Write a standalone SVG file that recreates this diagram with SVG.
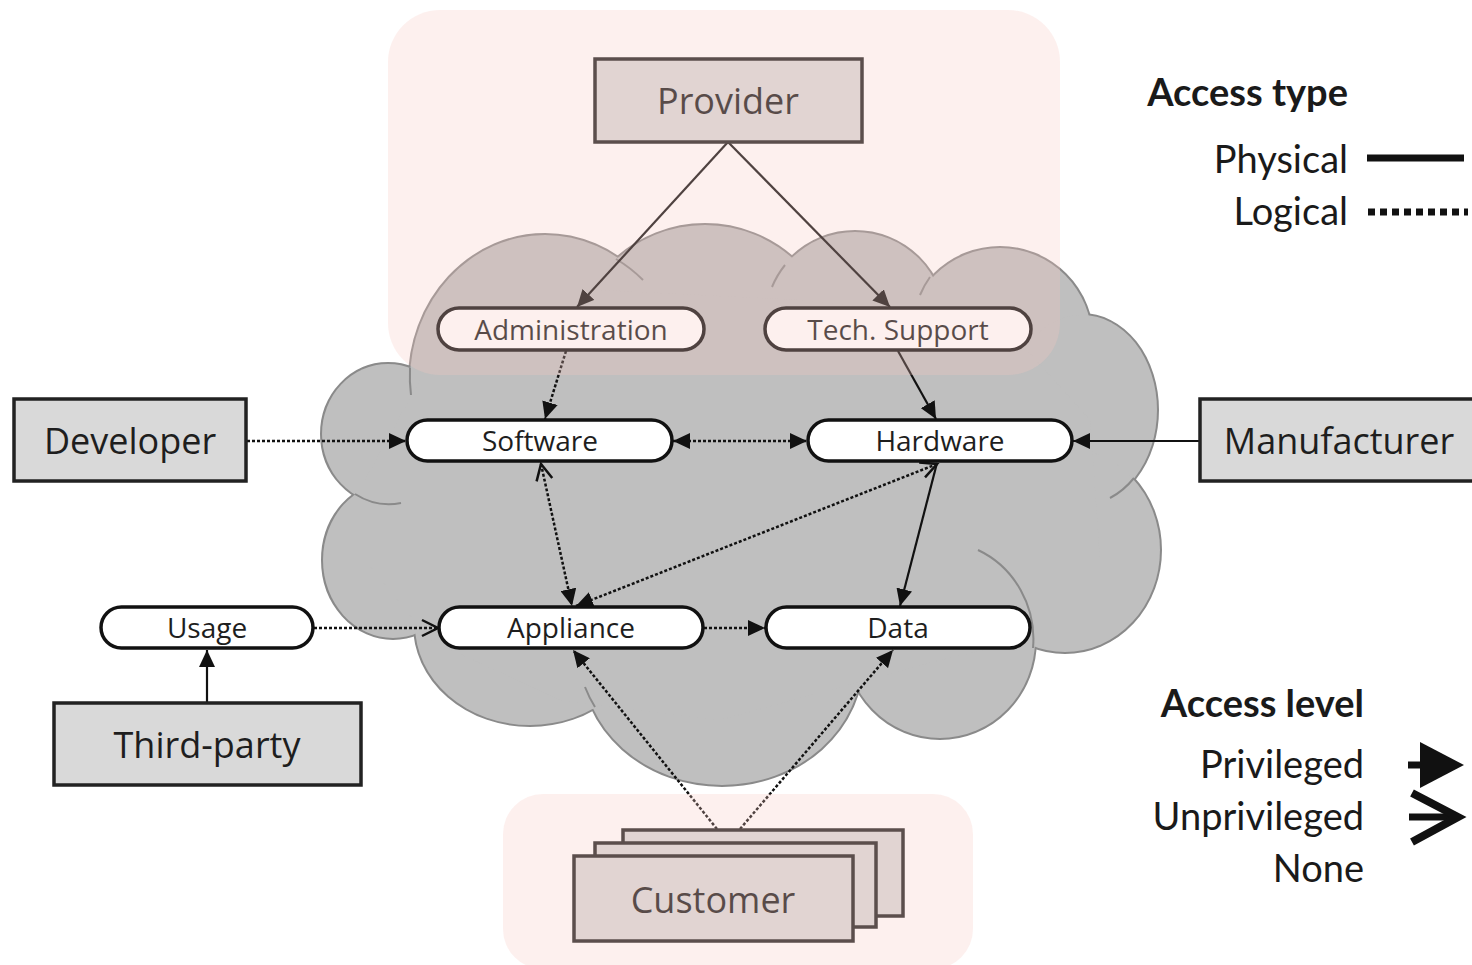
<svg xmlns="http://www.w3.org/2000/svg" width="1472" height="965" viewBox="0 0 1472 965">
  <defs>
    <style>
      .lobe-edge { fill: #bfbfbf; stroke: #8a8a8a; stroke-width: 4; }
      .lobe-fill { fill: #bfbfbf; stroke: none; }
      .cloud-arc { fill: none; stroke: #8a8a8a; stroke-width: 2; }
      .box { fill: #d9d9d9; stroke: #222; stroke-width: 3.5; }
      .pill { fill: #ffffff; stroke: #111; stroke-width: 3.5; }
      .box-text { font-family: "Open Sans", "DejaVu Sans", sans-serif; font-size: 36px; fill: #1e1e1e; text-anchor: middle; }
      .pill-text { font-family: "Open Sans", "DejaVu Sans", sans-serif; font-size: 28px; fill: #1e1e1e; text-anchor: middle; }
      .phys { fill: none; stroke: #111; stroke-width: 2.2; }
      .logi { fill: none; stroke: #111; stroke-width: 2.5; stroke-dasharray: 3 2; }
      .priv-end { marker-end: url(#priv); }
      .legend { font-family: Lato, "Liberation Sans", sans-serif; font-size: 38px; fill: #1a1a1a; text-anchor: end; }
      .legend-head { font-weight: bold; }
      .tint { fill: rgb(248,200,193); fill-opacity: 0.27; }
    </style>
    <!-- privileged access: filled head -->
    <marker id="priv" markerUnits="userSpaceOnUse" markerWidth="18" markerHeight="16" refX="17" refY="8" orient="auto-start-reverse">
      <path d="M0,0 L17,8 L0,16 Z" fill="#111"/>
    </marker>
    <!-- unprivileged access: open head -->
    <marker id="unpriv" markerUnits="userSpaceOnUse" markerWidth="20" markerHeight="20" refX="17" refY="10" orient="auto-start-reverse">
      <path d="M1,2 L17,10 L1,18" fill="none" stroke="#111" stroke-width="2.5"/>
    </marker>
    <!-- cloud lobes, shared by the outline pass and the fill pass -->
    <g id="lobes">
      <ellipse cx="388" cy="434" rx="66" ry="70"/>
      <ellipse cx="545" cy="380" rx="135" ry="145"/>
      <circle cx="705" cy="357" r="132"/>
      <circle cx="855" cy="322" r="90"/>
      <circle cx="1000" cy="340" r="92"/>
      <ellipse cx="1082" cy="410" rx="75" ry="95"/>
      <ellipse cx="1065" cy="550" rx="95" ry="102"/>
      <ellipse cx="940" cy="640" rx="95" ry="98"/>
      <ellipse cx="722" cy="660" rx="140" ry="125"/>
      <ellipse cx="530" cy="625" rx="115" ry="100"/>
      <ellipse cx="393" cy="560" rx="70" ry="78"/>
    </g>
  </defs>

  <rect width="1472" height="965" fill="#ffffff"/>

  <!-- cloud: outlined lobes, then the same lobes filled to hide inner edges -->
  <g id="cloud">
    <use href="#lobes" class="lobe-edge"/>
    <use href="#lobes" class="lobe-fill"/>
    <polygon class="lobe-fill" points="420,380 600,290 800,300 1000,320 1090,420 1100,560 1030,640 940,660 720,720 560,700 430,640 365,560 365,480"/>
    <path class="cloud-arc" d="M355 494 A 66 70 0 0 0 401 503"/>
    <path class="cloud-arc" d="M410 368 A 135 145 0 0 0 411 395"/>
    <path class="cloud-arc" d="M616 259 A 135 145 0 0 1 643 280"/>
    <path class="cloud-arc" d="M785 265 A 90 90 0 0 0 772 287"/>
    <path class="cloud-arc" d="M930 277 A 92 92 0 0 0 920 295"/>
    <path class="cloud-arc" d="M1134 478 A 75 95 0 0 1 1110 498"/>
    <path class="cloud-arc" d="M1033 648 A 95 98 0 0 0 978 550"/>
    <path class="cloud-arc" d="M595 707 A 140 125 0 0 1 585 687"/>
  </g>

  <!-- connectors -->
  <g id="connectors">
    <line class="phys priv-end" x1="728" y1="142" x2="577" y2="307"/>
    <line class="phys priv-end" x1="728" y1="142" x2="890" y2="307"/>
    <line class="logi priv-end" x1="566" y1="351" x2="545" y2="419"/>
    <line class="phys priv-end" x1="898" y1="351" x2="936" y2="419"/>
    <line class="logi priv-end" x1="247" y1="441" x2="406" y2="441"/>
    <line class="logi" x1="673" y1="441" x2="807" y2="441" marker-start="url(#priv)" marker-end="url(#priv)"/>
    <line class="phys priv-end" x1="1200" y1="441" x2="1073" y2="441"/>
    <line class="logi" x1="541" y1="464" x2="572" y2="606" marker-start="url(#unpriv)" marker-end="url(#priv)"/>
    <line class="logi" x1="937" y1="464" x2="576" y2="606" marker-start="url(#unpriv)" marker-end="url(#priv)"/>
    <line class="phys priv-end" x1="937" y1="463" x2="900" y2="606"/>
    <line class="logi" x1="314" y1="628" x2="438" y2="628" marker-end="url(#unpriv)"/>
    <line class="logi priv-end" x1="704" y1="628" x2="765" y2="628"/>
    <line class="phys priv-end" x1="207" y1="703" x2="207" y2="650"/>
    <line class="logi priv-end" x1="717" y1="829" x2="573" y2="650"/>
    <line class="logi priv-end" x1="740" y1="829" x2="893" y2="650"/>
  </g>

  <!-- nodes -->
  <g id="provider">
    <rect class="box" x="595" y="59" width="267" height="83"/>
    <text class="box-text" x="728" y="114">Provider</text>
  </g>
  <g id="administration">
    <rect class="pill" x="438" y="308" width="266" height="42" rx="21"/>
    <text class="pill-text" x="571" y="340">Administration</text>
  </g>
  <g id="tech-support">
    <rect class="pill" x="765" y="308" width="266" height="42" rx="21"/>
    <text class="pill-text" x="898" y="340">Tech. Support</text>
  </g>
  <g id="developer">
    <rect class="box" x="14" y="399" width="232" height="82"/>
    <text class="box-text" x="130" y="454">Developer</text>
  </g>
  <g id="software">
    <rect class="pill" x="407" y="420" width="265" height="41" rx="20.5"/>
    <text class="pill-text" x="540" y="451">Software</text>
  </g>
  <g id="hardware">
    <rect class="pill" x="808" y="420" width="264" height="41" rx="20.5"/>
    <text class="pill-text" x="940" y="451">Hardware</text>
  </g>
  <g id="manufacturer">
    <rect class="box" x="1200" y="399" width="290" height="82"/>
    <text class="box-text" x="1339" y="454">Manufacturer</text>
  </g>
  <g id="usage">
    <rect class="pill" x="101" y="607" width="212" height="41" rx="20.5"/>
    <text class="pill-text" x="207" y="638">Usage</text>
  </g>
  <g id="appliance">
    <rect class="pill" x="439" y="607" width="264" height="41" rx="20.5"/>
    <text class="pill-text" x="571" y="638">Appliance</text>
  </g>
  <g id="data">
    <rect class="pill" x="766" y="607" width="264" height="41" rx="20.5"/>
    <text class="pill-text" x="898" y="638">Data</text>
  </g>
  <g id="third-party">
    <rect class="box" x="54" y="703" width="307" height="82"/>
    <text class="box-text" x="207" y="758">Third-party</text>
  </g>
  <g id="customer">
    <rect class="box" x="623" y="830" width="280" height="86"/>
    <rect class="box" x="595" y="843" width="281" height="84"/>
    <rect class="box" x="574" y="856" width="279" height="85"/>
    <text class="box-text" x="713" y="913" font-size="38">Customer</text>
  </g>

  <!-- stakeholder zones -->
  <g id="zones">
    <rect class="tint" x="388" y="10" width="672" height="365" rx="52"/>
    <rect class="tint" x="503" y="794" width="470" height="175" rx="40"/>
  </g>

  <!-- legend -->
  <g id="legend-access-type">
    <text class="legend legend-head" x="1348" y="106">Access type</text>
    <text class="legend" x="1348" y="173">Physical</text>
    <line x1="1367" y1="158" x2="1464" y2="158" stroke="#111" stroke-width="7"/>
    <text class="legend" x="1348" y="225">Logical</text>
    <line x1="1368" y1="212" x2="1468" y2="212" stroke="#111" stroke-width="7" stroke-dasharray="7 5"/>
  </g>
  <g id="legend-access-level">
    <text class="legend legend-head" x="1364" y="717">Access level</text>
    <text class="legend" x="1364" y="778">Privileged</text>
    <line x1="1408" y1="765" x2="1424" y2="765" stroke="#111" stroke-width="7"/>
    <path d="M1420 742 L1464 765 L1420 788 Z" fill="#111"/>
    <text class="legend" x="1364" y="830">Unprivileged</text>
    <line x1="1409" y1="817" x2="1456" y2="817" stroke="#111" stroke-width="7"/>
    <path d="M1412 793 L1458 817 L1412 842" fill="none" stroke="#111" stroke-width="8" stroke-linejoin="miter"/>
    <text class="legend" x="1364" y="882">None</text>
  </g>
</svg>
